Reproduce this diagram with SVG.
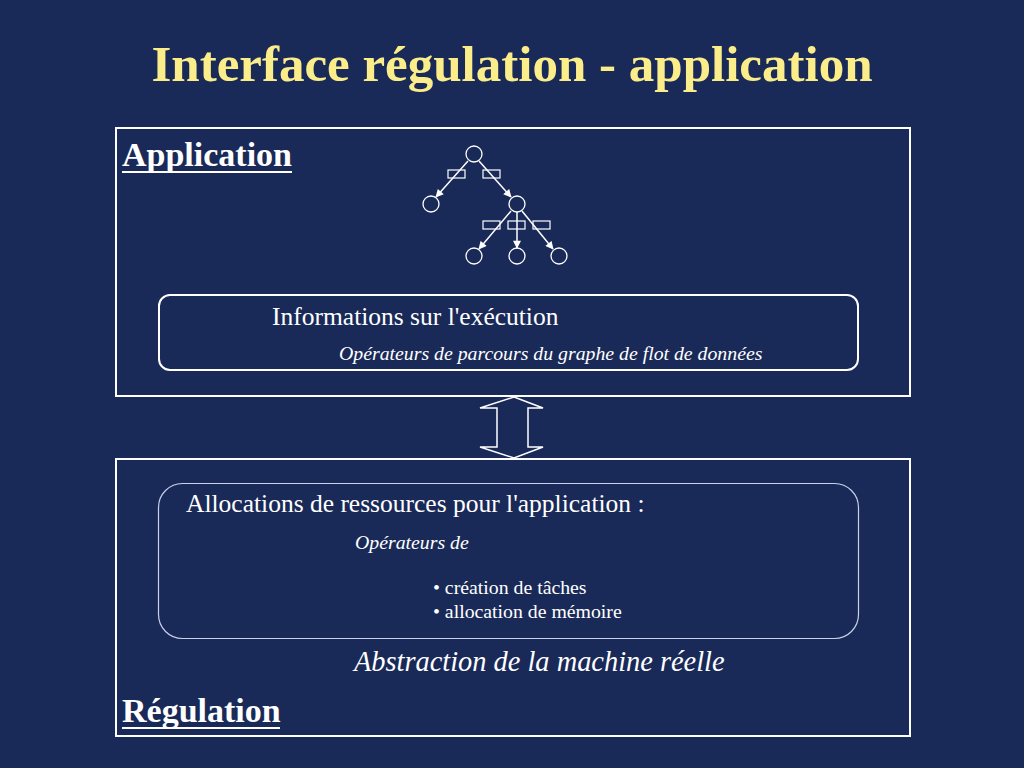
<svg xmlns="http://www.w3.org/2000/svg" width="1024" height="768" viewBox="0 0 1024 768">
<defs>
<marker id="ah" viewBox="0 0 10 10" refX="9" refY="5" markerWidth="9" markerHeight="8" orient="auto" markerUnits="userSpaceOnUse">
<path d="M0,0 L10,5 L0,10 z" fill="#ffffff"/>
</marker>
<style>
text{font-family:"Liberation Serif","Times New Roman",serif;fill:#ffffff}
.title{font-size:51px;font-weight:bold;fill:#fbee8a}
.head{font-size:34px;font-weight:bold}
.ul{stroke:#ffffff;stroke-width:2}
.big{font-size:25.5px}
.it{font-size:19.8px;font-style:italic}
.sm{font-size:19.8px}
.frame{fill:none;stroke:#ffffff;stroke-width:2}
.node{fill:none;stroke:#ffffff;stroke-width:1.3}
.lab{fill:none;stroke:#ffffff;stroke-width:1.2}
.edge{stroke:#ffffff;stroke-width:1.5;marker-end:url(#ah)}
</style>
</defs>
<rect width="1024" height="768" fill="#1a2a58"/>
<text class="title" x="512" y="81" text-anchor="middle">Interface régulation - application</text>

<g id="application-box">
<rect class="frame" x="116" y="128" width="794" height="268"/>
<text class="head" x="122" y="166">Application</text>
<line class="ul" x1="122" y1="172" x2="292" y2="172"/>
</g>

<g id="tree-nodes">
<circle id="n0" class="node" cx="474" cy="154" r="8"/>
<circle id="n1" class="node" cx="431" cy="204" r="8"/>
<circle id="n2" class="node" cx="517" cy="204" r="8"/>
<circle id="n3" class="node" cx="474" cy="256" r="8"/>
<circle id="n4" class="node" cx="517" cy="256" r="8"/>
<circle id="n5" class="node" cx="559" cy="256" r="8"/>
<rect class="lab" x="448" y="170" width="17" height="8"/>
<rect class="lab" x="483" y="170" width="17" height="8"/>
<rect class="lab" x="483" y="221" width="17" height="8"/>
<rect class="lab" x="508" y="221" width="17" height="8"/>
<rect class="lab" x="533" y="221" width="17" height="8"/>
</g>

<g id="connectors">
<line class="edge" x1="468" y1="161" x2="436" y2="197"/>
<line class="edge" x1="479" y1="161" x2="511" y2="197"/>
<line class="edge" x1="511" y1="211" x2="479" y2="249"/>
<line class="edge" x1="517" y1="212" x2="517" y2="248"/>
<line class="edge" x1="522" y1="211" x2="553" y2="249"/>
<path id="double-arrow" d="M514,397 L543,408 L528,408 L528,447 L543,447 L514,458 L480,447 L497,447 L497,408 L480,408 Z" fill="none" stroke="#ffffff" stroke-width="1.5" stroke-linejoin="miter"/>
</g>

<g id="info-box">
<rect x="159" y="295" width="699" height="75" rx="11" fill="none" stroke="#ffffff" stroke-width="2"/>
<text class="big" x="272" y="325">Informations sur l'exécution</text>
<text class="it" x="339" y="360">Opérateurs de parcours du graphe de flot de données</text>
</g>

<g id="regulation-box">
<rect class="frame" x="116" y="459" width="794" height="277"/>
<text class="head" x="122" y="722">Régulation</text>
<line class="ul" x1="122" y1="728" x2="280" y2="728"/>
<text x="354" y="671" style="font-size:28.4px;font-style:italic">Abstraction de la machine réelle</text>
</g>

<g id="alloc-box">
<rect x="158.5" y="483.5" width="700" height="155" rx="24" fill="none" stroke="#c9d2ea" stroke-width="1.2"/>
<text class="big" x="186" y="512">Allocations de ressources pour l'application :</text>
<text class="it" x="355" y="549">Opérateurs de</text>
<text class="sm" x="433" y="594">• création de tâches</text>
<text class="sm" x="433" y="618">• allocation de mémoire</text>
</g>
</svg>
